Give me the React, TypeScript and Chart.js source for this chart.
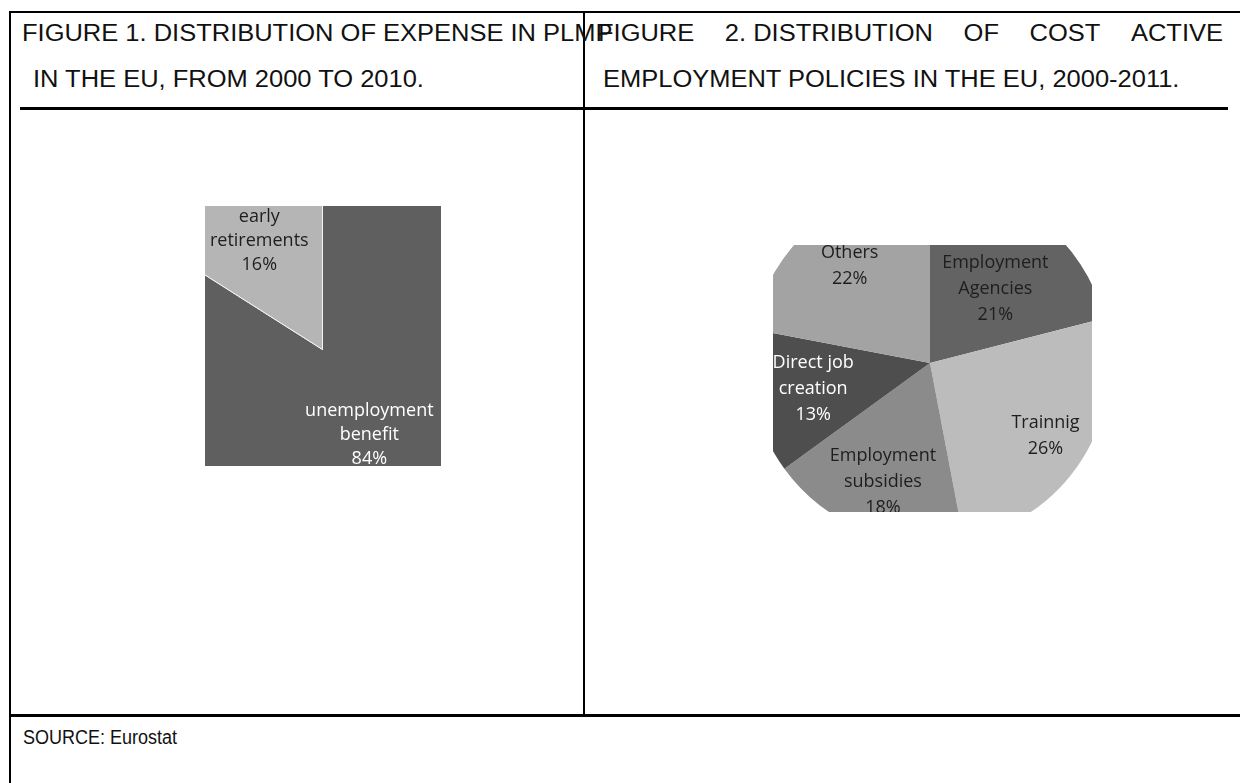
import React, { useEffect, useRef } from "react";
import { Chart, registerables } from "chart.js";

Chart.register(...registerables);

// ---------- Data ----------
const fig1Title1 = "FIGURE 1. DISTRIBUTION OF EXPENSE IN PLMP";
const fig1Title2 = "IN THE EU, FROM 2000 TO 2010.";
const fig2TitleWords = ["FIGURE", "2. DISTRIBUTION", "OF", "COST", "ACTIVE"];
const fig2Title2 = "EMPLOYMENT POLICIES IN THE EU, 2000-2011.";
const sourceText = "SOURCE: Eurostat";

const fig1Categories = ["unemployment benefit", "early retirements"];
const fig1CategoryLines = [["unemployment", "benefit"], ["early", "retirements"]];
const fig1Values = [84, 16];
const fig1Colors = ["#5f5f5f", "#b5b5b5"];
const fig1TextColors = ["#ffffff", "#1e1e1e"];
const fig1LabelRadii = [0.52, 0.67];
const fig1LabelTurns = [0, -1.5];

const fig2Categories = ["Employment Agencies", "Trainnig", "Employment subsidies", "Direct job creation", "Others"];
const fig2CategoryLines = [["Employment", "Agencies"], ["Trainnig"], ["Employment", "subsidies"], ["Direct job", "creation"], ["Others"]];
const fig2Values = [21, 26, 18, 13, 22];
const fig2Colors = ["#636363", "#bcbcbc", "#8b8b8b", "#4e4e4e", "#a3a3a3"];
const fig2TextColors = ["#1e1e1e", "#1e1e1e", "#1e1e1e", "#ffffff", "#1e1e1e"];
const fig2LabelRadii = [0.55, 0.76, 0.71, 0.665, 0.7];
const fig2LabelTurns = [3.5, 0, 0, 0, 0];

// ---------- Label plugin ----------
const sliceLabels = {
  id: "sliceLabels",
  afterDatasetsDraw(chart: any, _args: any, opts: any) {
    const meta = chart.getDatasetMeta(0);
    const ds = chart.data.datasets[0];
    const total = ds.data.reduce((a: number, b: number) => a + b, 0);
    const ctx = chart.ctx;
    meta.data.forEach((arc: any, i: number) => {
      const p = arc.getProps(["x", "y", "startAngle", "endAngle", "outerRadius"], true);
      const mid = (p.startAngle + p.endAngle) / 2 + ((opts.turns[i] || 0) * Math.PI) / 180;
      const r = p.outerRadius * opts.radii[i];
      const cx = p.x + Math.cos(mid) * r;
      const cy = p.y + Math.sin(mid) * r;
      const lines = [...opts.lines[i], Math.round((ds.data[i] / total) * 100) + "%"];
      ctx.save();
      ctx.font = opts.font;
      ctx.fillStyle = opts.colors[i];
      ctx.textAlign = "center";
      ctx.textBaseline = "middle";
      lines.forEach((t: string, j: number) => {
        ctx.fillText(t, cx, cy + (j - (lines.length - 1) / 2) * opts.lineHeight);
      });
      ctx.restore();
    });
  },
};

type PieProps = {
  categories: string[];
  values: number[];
  colors: string[];
  lines: string[][];
  textColors: string[];
  radii: number[];
  turns: number[];
  size: number;
  borderWidth: number;
  borderColor: string;
  font: string;
  lineHeight: number;
  clip: { left: number; top: number; width: number; height: number };
  canvasLeft: number;
  canvasTop: number;
};

function ClippedPie(props: PieProps) {
  const ref = useRef<HTMLCanvasElement>(null);
  useEffect(() => {
    if (!ref.current) return;
    const chart = new Chart(ref.current, {
      type: "pie",
      data: {
        labels: props.categories,
        datasets: [
          {
            data: props.values,
            backgroundColor: props.colors,
            borderColor: props.borderColor,
            borderWidth: props.borderWidth,
          },
        ],
      },
      options: {
        animation: false,
        responsive: false,
        maintainAspectRatio: false,
        devicePixelRatio: 1,
        events: [],
        layout: { padding: 0 },
        plugins: {
          legend: { display: false },
          tooltip: { enabled: false },
          sliceLabels: {
            lines: props.lines,
            colors: props.textColors,
            radii: props.radii,
            turns: props.turns,
            font: props.font,
            lineHeight: props.lineHeight,
          },
        } as any,
      },
      plugins: [sliceLabels],
    });
    return () => chart.destroy();
  }, []);
  return (
    <div
      style={{
        position: "absolute",
        left: props.clip.left,
        top: props.clip.top,
        width: props.clip.width,
        height: props.clip.height,
        overflow: "hidden",
      }}
    >
      <canvas
        ref={ref}
        width={props.size}
        height={props.size}
        style={{ position: "absolute", left: props.canvasLeft, top: props.canvasTop, width: props.size, height: props.size }}
      />
    </div>
  );
}

const SX = 1.108;
const FS = 23;

function Line(p: { left: number; top: number; width: number; height: number }) {
  return <div style={{ position: "absolute", background: "#000", ...p }} />;
}

function Txt(p: { x: number; y: number; text: string; sx?: number; fs?: number }) {
  const fs = p.fs ?? FS;
  return (
    <div
      style={{
        position: "absolute",
        left: p.x,
        top: p.y,
        fontSize: fs,
        lineHeight: fs + "px",
        whiteSpace: "nowrap",
        transform: `scaleX(${p.sx ?? SX})`,
        transformOrigin: "0 0",
      }}
    >
      {p.text}
    </div>
  );
}

export default function App() {
  return (
    <div
      style={{
        position: "absolute",
        left: 0,
        top: 0,
        width: 1240,
        height: 783,
        background: "#fff",
        overflow: "hidden",
        fontFamily: "'Liberation Sans', Arial, sans-serif",
        color: "#111",
      }}
    >
      {/* table lines */}
      <Line left={9} top={11} width={1231} height={2} />
      <Line left={9} top={11} width={2} height={772} />
      <Line left={583} top={11} width={2} height={705} />
      <Line left={20} top={107} width={1208} height={3} />
      <Line left={9} top={714} width={1231} height={3} />

      {/* headers */}
      <Txt x={22} y={22} text={fig1Title1} />
      <Txt x={33} y={68} text={fig1Title2} />
      <div
        style={{
          position: "absolute",
          left: 598,
          top: 22,
          width: 625 / SX,
          display: "flex",
          justifyContent: "space-between",
          fontSize: FS,
          lineHeight: FS + "px",
          whiteSpace: "nowrap",
          transform: `scaleX(${SX})`,
          transformOrigin: "0 0",
        }}
      >
        {fig2TitleWords.map((w) => (
          <span key={w}>{w}</span>
        ))}
      </div>
      <Txt x={603} y={68} text={fig2Title2} />
      <Txt x={23} y={727} text={sourceText} fs={20} sx={0.9} />

      {/* Figure 1 */}
      <ClippedPie
        categories={fig1Categories}
        values={fig1Values}
        colors={fig1Colors}
        lines={fig1CategoryLines}
        textColors={fig1TextColors}
        radii={fig1LabelRadii}
        turns={fig1LabelTurns}
        size={375}
        borderWidth={1}
        borderColor="#f4f4f4"
        font="18px 'Open Sans'"
        lineHeight={24}
        clip={{ left: 205, top: 206, width: 236, height: 260 }}
        canvasLeft={-70}
        canvasTop={-44}
      />

      {/* Figure 2 */}
      <ClippedPie
        categories={fig2Categories}
        values={fig2Values}
        colors={fig2Colors}
        lines={fig2CategoryLines}
        textColors={fig2TextColors}
        radii={fig2LabelRadii}
        turns={fig2LabelTurns}
        size={360}
        borderWidth={0}
        borderColor="#ffffff"
        font="18px 'Open Sans'"
        lineHeight={26}
        clip={{ left: 773, top: 245, width: 319, height: 267 }}
        canvasLeft={-23}
        canvasTop={-62}
      />
    </div>
  );
}
